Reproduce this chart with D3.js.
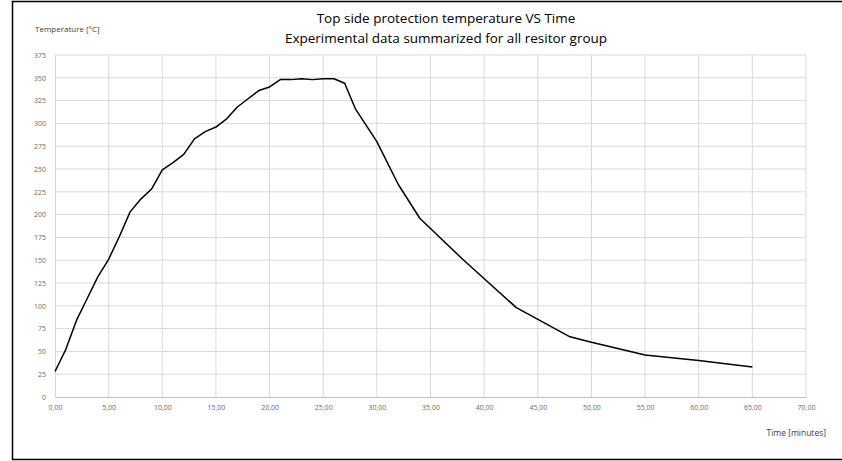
<!DOCTYPE html>
<html>
<head>
<meta charset="utf-8">
<script src="https://cdn.jsdelivr.net/npm/d3@7"></script>
<style>
  body { margin: 0; background: #fff; }
  svg { display: block; }
</style>
</head>
<body>
<div class="chart"></div>
<script>
// minutes and temperature (°C)
var timeMin = [0, 1, 2, 3, 4, 5, 6, 7, 8, 9, 10, 11, 12, 13, 14, 15, 16, 17, 18, 19, 20,
               21, 22, 23, 24, 25, 26, 27, 28, 30, 32, 34, 38, 43, 48, 50, 55, 60, 65];
var tempC   = [28, 52, 84, 108, 132, 151, 176, 203, 217, 228, 249, 257, 266, 283, 291, 296,
               305, 318, 327, 336, 340, 348, 348, 349, 348, 349, 349, 344, 316, 280, 233,
               196, 151, 98, 66, 60, 46, 40, 33];
var xTicks = [0, 5, 10, 15, 20, 25, 30, 35, 40, 45, 50, 55, 60, 65, 70];
var yTicks = [0, 25, 50, 75, 100, 125, 150, 175, 200, 225, 250, 275, 300, 325, 350, 375];
var titleLines = ["Top side protection temperature VS Time",
                  "Experimental data summarized for all resitor group"];

var width = 842, height = 461;
var plotLeft = 55, plotRight = 806, plotTop = 55, plotBottom = 397;

var svg = d3.select('.chart')
    .append('svg')
    .attr('width', width)
    .attr('height', height);

// outer frame (right side runs off the picture)
svg.append('rect')
    .attr('x', 12.5).attr('y', 1.5)
    .attr('width', 850).attr('height', 458)
    .attr('fill', 'none')
    .attr('stroke', '#000')
    .attr('stroke-width', 1.5);

var xscale = d3.scaleLinear().domain([0, 70]).range([plotLeft, plotRight]);
var yscale = d3.scaleLinear().domain([0, 375]).range([plotBottom, plotTop]);

// grid
svg.append('g').selectAll('line')
    .data(xTicks.slice(1))
    .enter().append('line')
    .attr('x1', d => xscale(d)).attr('x2', d => xscale(d))
    .attr('y1', plotTop).attr('y2', plotBottom)
    .attr('stroke', '#d9d9d9');

svg.append('g').selectAll('line')
    .data(yTicks.slice(1))
    .enter().append('line')
    .attr('x1', plotLeft).attr('x2', plotRight)
    .attr('y1', d => yscale(d)).attr('y2', d => yscale(d))
    .attr('stroke', '#d9d9d9');

// axes
var xaxis = d3.axisBottom(xscale)
    .tickValues(xTicks)
    .tickSize(0)
    .tickPadding(8)
    .tickFormat(d => d3.format('.2f')(d).replace('.', ','));

var yaxis = d3.axisLeft(yscale)
    .tickValues(yTicks)
    .tickSize(0)
    .tickPadding(9);

var gx = svg.append('g')
    .attr('transform', 'translate(0,' + plotBottom + ')')
    .call(xaxis);
gx.select('.domain').attr('stroke', '#bfbfbf');

var gy = svg.append('g')
    .attr('transform', 'translate(' + plotLeft + ',0)')
    .call(yaxis);
gy.select('.domain').attr('stroke', '#d9d9d9');

svg.selectAll('.tick text')
    .attr('fill', '#6b6b6b')
    .style('font-family', '"Open Sans", sans-serif')
    .style('font-size', '7px');

// data line
var line = d3.line()
    .x((d, i) => xscale(timeMin[i]))
    .y(d => yscale(d));

svg.append('path')
    .datum(tempC)
    .attr('d', line)
    .attr('fill', 'none')
    .attr('stroke', '#000')
    .attr('stroke-width', 1.5)
    .attr('stroke-linejoin', 'round');

// titles
svg.append('g').selectAll('text')
    .data(titleLines)
    .enter().append('text')
    .attr('x', 446)
    .attr('y', (d, i) => 23 + i * 20)
    .attr('text-anchor', 'middle')
    .style('font-family', '"Open Sans", sans-serif')
    .style('font-size', '13.5px')
    .attr('fill', '#000')
    .text(d => d);

svg.append('text')
    .attr('x', 35).attr('y', 32)
    .style('font-family', '"Open Sans", sans-serif')
    .style('font-size', '8px')
    .attr('fill', '#404040')
    .text('Temperature [°C]');

svg.append('text')
    .attr('x', 826).attr('y', 436)
    .attr('text-anchor', 'end')
    .style('font-family', '"Open Sans", sans-serif')
    .style('font-size', '8.5px')
    .attr('fill', '#404040')
    .text('Time  [minutes]');
</script>
</body>
</html>
